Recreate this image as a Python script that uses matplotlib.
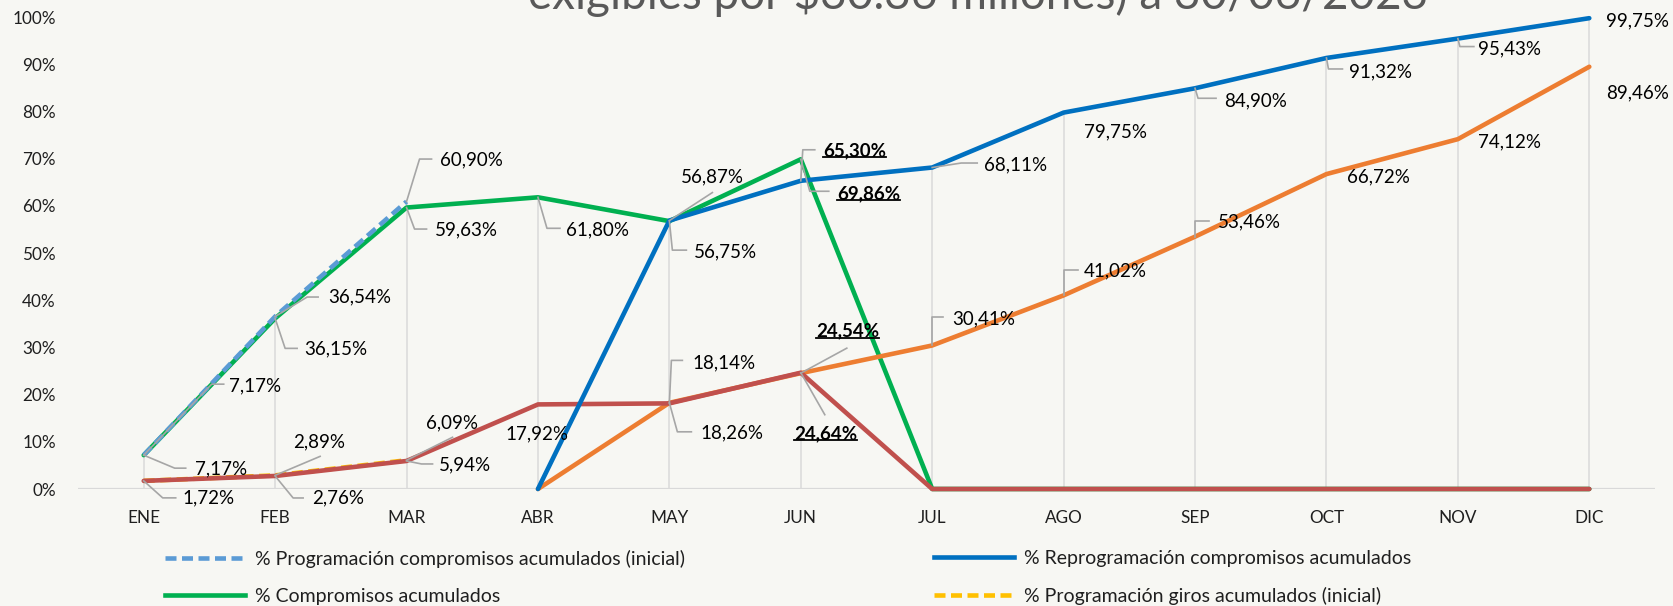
import numpy as np
import matplotlib
matplotlib.use('Agg')
import matplotlib.pyplot as plt
from matplotlib.lines import Line2D
from matplotlib.transforms import IdentityTransform

plt.rcParams['font.family'] = ['Lato', 'DejaVu Sans']

# ---------------- data ----------------
months = ['ENE', 'FEB', 'MAR', 'ABR', 'MAY', 'JUN', 'JUL', 'AGO', 'SEP', 'OCT', 'NOV', 'DIC']
prog_comp_ini = [7.17, 36.54, 60.90, None, None, None, None, None, None, None, None, None]
reprog_comp = [None, None, None, 0.0, 56.87, 65.30, 68.11, 79.75, 84.90, 91.32, 95.43, 99.75]
compromisos = [7.17, 36.15, 59.63, 61.80, 56.75, 69.86, 0.0, 0.0, 0.0, 0.0, 0.0, 0.0]
prog_giros_ini = [1.72, 2.89, 6.09, None, None, None, None, None, None, None, None, None]
reprog_giros = [None, None, None, 0.0, 18.26, 24.54, 30.41, 41.02, 53.46, 66.72, 74.12, 89.46]
giros = [1.72, 2.76, 5.94, 17.92, 18.14, 24.64, 0.0, 0.0, 0.0, 0.0, 0.0, 0.0]
yticks = [0, 10, 20, 30, 40, 50, 60, 70, 80, 90, 100]

legend_labels = ['% Programación compromisos acumulados (inicial)',
                 '% Reprogramación compromisos acumulados',
                 '% Compromisos acumulados',
                 '% Programación giros acumulados (inicial)']
title_text = r'exigibles por \$30.36 millones) a 30/06/2023'

# label placement: index -> (dx px, dy px (down), leader offsets, bold)
lab_prog_comp_ini = {0: (85, -69, [(68, -71), (80, -71)], False),
                     1: (53, -19.5, [(32, -19.5), (43, -19.5)], False),
                     2: (33, -41.5, [(13, -42.5), (25, -42.5)], False)}
lab_compromisos = {0: (51, 14, [(31, 13), (42, 13)], False),
                   1: (29, 31, [(10, 30), (22, 30)], False),
                   2: (28, 22.5, [(8, 21.5), (20, 21.5)], False),
                   3: (28, 33, [(9, 31), (22, 31)], False),
                   4: (25, 31, [(3, 29), (17, 29)], False),
                   5: (36, 34, [(9, 32), (28, 32)], True)}
lab_prog_giros_ini = {1: (18, -33, [(45, -19)], False),
                      2: (19, -37, [(46, -23)], False)}
lab_giros = {0: (39, 17, [(19, 17), (32, 17)], False),
             1: (37, 22, [(18, 22), (28, 22)], False),
             2: (32, 4, [(15, 3), (26, 3)], False),
             3: (-33, 29, [], False),
             4: (23, -41, [(2, -43), (13, -43)], False),
             5: (-7, 61, [(24, 42)], True)}
lab_reprog_comp = {4: (12, -44, [(43, -28)], False),
                   5: (22, -30, [(2, -31), (14, -31)], True),
                   6: (52, -2.5, [(29, -4.5), (45, -4.5)], False),
                   7: (20, 19, [], False),
                   8: (29, 13, [(3, 10), (21, 10)], False),
                   9: (23, 14, [(2, 11), (16, 11)], False),
                   10: (20, 10, [(2, 8), (16, 8)], False),
                   11: (17, 3, [], False)}
lab_reprog_giros = {4: (31, 30, [(8, 29), (22, 29)], False),
                    5: (15, -42, [(46, -25)], True),
                    6: (20, -27, [(0, -28), (11, -28)], False),
                    7: (20, -25, [(0, -25), (14, -25)], False),
                    8: (23, -15, [(0, -16), (14, -16)], False),
                    9: (21, 3, [], False),
                    10: (20, 3, [], False),
                    11: (17, 26, [], False)}

# ---------------- figure ----------------
BG = '#F7F7F3'
W, H = 1673, 606
fig = plt.figure(figsize=(W / 100, H / 100), dpi=100, facecolor=BG)
ax = fig.add_axes([78 / W, 117 / H, (1655 - 78) / W, 472 / H])
ax.set_facecolor(BG)
x = np.arange(len(months))
ax.set_xlim(-0.5, len(months) - 0.5)
ax.set_ylim(0, 100)


def arr(v):
    return np.array([np.nan if a is None else a for a in v], dtype=float)


series = [
    (compromisos, '#00B050', '-', 2, lab_compromisos),
    (prog_giros_ini, '#FFC000', '--', 3, lab_prog_giros_ini),
    (reprog_giros, '#ED7D31', '-', 4, lab_reprog_giros),
    (giros, '#C0504D', '-', 5, lab_giros),
    (reprog_comp, '#0070C0', '-', 6, lab_reprog_comp),
    (prog_comp_ini, '#5B9BD5', '--', 7, lab_prog_comp_ini),
]
LW = 3.3
DASH = (2.4, 1.2)

# drop lines
allv = np.vstack([arr(s[0]) for s in series])
maxv = np.nanmax(allv, axis=0)
ax.vlines(x, 0, maxv, color='#D9D9D9', lw=1.1, zorder=1)
ax.axhline(0, color='#D9D9D9', lw=1.6, zorder=1)

for vals, col, ls, z, _ in series:
    kw = dict(color=col, lw=LW, zorder=z, clip_on=False, solid_capstyle='round',
              solid_joinstyle='round')
    if ls == '--':
        kw['dashes'] = DASH
        kw['dash_capstyle'] = 'butt'
    ax.plot(x, arr(vals), **kw)

for s in ax.spines.values():
    s.set_visible(False)
ax.set_yticks(yticks)
ax.set_yticklabels([f'{t}%' for t in yticks])
ax.set_xticks(x)
ax.set_xticklabels(months)
ax.tick_params(axis='y', length=0, pad=16, labelsize=12.3, labelcolor='#1F1F1F')
ax.tick_params(axis='x', length=0, pad=15, labelsize=12.3, labelcolor='#1F1F1F')


def fmt(v):
    return f'{v:.2f}'.replace('.', ',') + '%'


bold_texts = []
for vals, col, ls, z, labs in series:
    v = arr(vals)
    for i, (dx, dy, leader, bold) in labs.items():
        t = ax.annotate(fmt(v[i]), xy=(x[i], v[i]), xytext=(dx, -dy),
                        textcoords='offset pixels', ha='left', va='center',
                        fontsize=13.5, color='#000000', zorder=10,
                        fontweight='bold' if bold else 'normal',
                        annotation_clip=False)
        if bold:
            bold_texts.append(t)
        if leader:
            px, py = ax.transData.transform((x[i], v[i]))
            xs = [px] + [px + lx for lx, ly in leader]
            ys = [py] + [py - ly for lx, ly in leader]
            ax.add_line(Line2D(xs, ys, transform=IdentityTransform(),
                               color='#A6A6A6', lw=1.2, zorder=9, clip_on=False))

# legend
h1 = Line2D([], [], color='#5B9BD5', lw=LW, dashes=DASH)
h2 = Line2D([], [], color='#0070C0', lw=LW)
h3 = Line2D([], [], color='#00B050', lw=LW)
h4 = Line2D([], [], color='#FFC000', lw=LW, dashes=DASH)
legkw = dict(loc='upper left', frameon=False, fontsize=14, handlelength=4.1,
             handletextpad=0.55, labelspacing=1.0, borderpad=0, borderaxespad=0,
             labelcolor='#1F1F1F')
lg1 = fig.legend([h1, h3], [legend_labels[0], legend_labels[2]],
                 bbox_to_anchor=(165 / W, 1 - 550 / H), **legkw)
lg2 = fig.legend([h2, h4], [legend_labels[1], legend_labels[3]],
                 bbox_to_anchor=(934 / W, 1 - 550 / H), **legkw)

# partially visible title (cut at the top edge, as in the reference)
fig.text(978 / W, 1 - 9 / H, title_text, ha='center', va='baseline',
         fontsize=33, color='#595959')

# underline the bold labels
fig.canvas.draw()
renderer = fig.canvas.get_renderer()
for t in bold_texts:
    bb = t.get_window_extent(renderer)
    yy = bb.y0 + 2
    ax.add_line(Line2D([bb.x0, bb.x1], [yy, yy], transform=IdentityTransform(),
                       color='#000000', lw=1.3, zorder=10, clip_on=False))

fig.savefig('out.png', dpi=100, facecolor=BG)
